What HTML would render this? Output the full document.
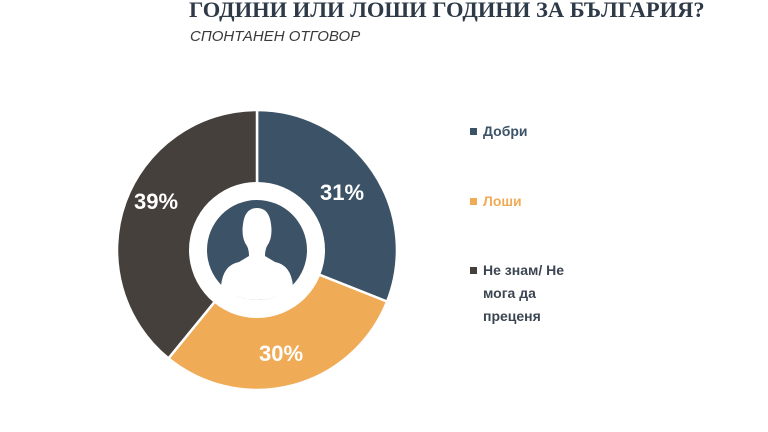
<!DOCTYPE html>
<html><head><meta charset="utf-8"><style>
body{margin:0;width:768px;height:432px;background:#fff;overflow:hidden;position:relative;font-family:"Liberation Sans",sans-serif}
.t{position:absolute;left:189px;top:-3px;font:bold 22.5px "Liberation Serif",serif;color:#2e3a48;white-space:nowrap}
.s{position:absolute;left:190px;top:28px;font:italic 15px "Liberation Sans",sans-serif;color:#3a3a3a}
.l{position:absolute;left:470px;font:bold 14px "Liberation Sans",sans-serif;line-height:23px}
.l i{position:absolute;left:0;top:8px;width:7px;height:7px}
.l span{margin-left:13px;display:block}
</style></head><body>
<div class="t">ГОДИНИ ИЛИ ЛОШИ ГОДИНИ ЗА БЪЛГАРИЯ?</div>
<div class="s">СПОНТАНЕН ОТГОВОР</div>
<svg width="768" height="432" style="position:absolute;left:0;top:0">
<g transform="translate(257,250)" stroke="#fff" stroke-width="2.5">
<path d="M0,-140 A140,140 0 0 1 130.1,51.6 L0,0Z" fill="#3c5267"/>
<path d="M130.1,51.6 A140,140 0 0 1 -88.6,108.4 L0,0Z" fill="#f0ab57"/>
<path d="M-88.6,108.4 A140,140 0 0 1 0,-140 L0,0Z" fill="#45403b"/>
<circle r="68" fill="#fff" stroke="none"/>
<circle r="50" fill="#3c5267" stroke="none"/>
<path d="M-36,36 Q-34,15 -18,12 L-8,6 Q-8,0 -10,-4 Q-16,-12 -14,-26 Q-12,-42 0,-42 Q12,-42 14,-26 Q16,-12 10,-4 Q8,0 8,6 L18,12 Q34,15 36,36 Q20,50 0,50 Q-20,50 -36,36Z" fill="#fff" stroke="none"/>
</g>
<g font-family="Liberation Sans" font-weight="bold" font-size="22" fill="#fff" text-anchor="middle">
<text x="342" y="200">31%</text>
<text x="281" y="361">30%</text>
<text x="156" y="209">39%</text>
</g>
</svg>
<div class="l" style="top:120px;color:#3c5267"><i style="background:#3c5267"></i><span>Добри</span></div>
<div class="l" style="top:190px;color:#f0ab57"><i style="background:#f0ab57"></i><span>Лоши</span></div>
<div class="l" style="top:259px;color:#3c4652"><i style="background:#45403b"></i><span>Не знам/ Не<br>мога да<br>преценя</span></div>
</body></html>
